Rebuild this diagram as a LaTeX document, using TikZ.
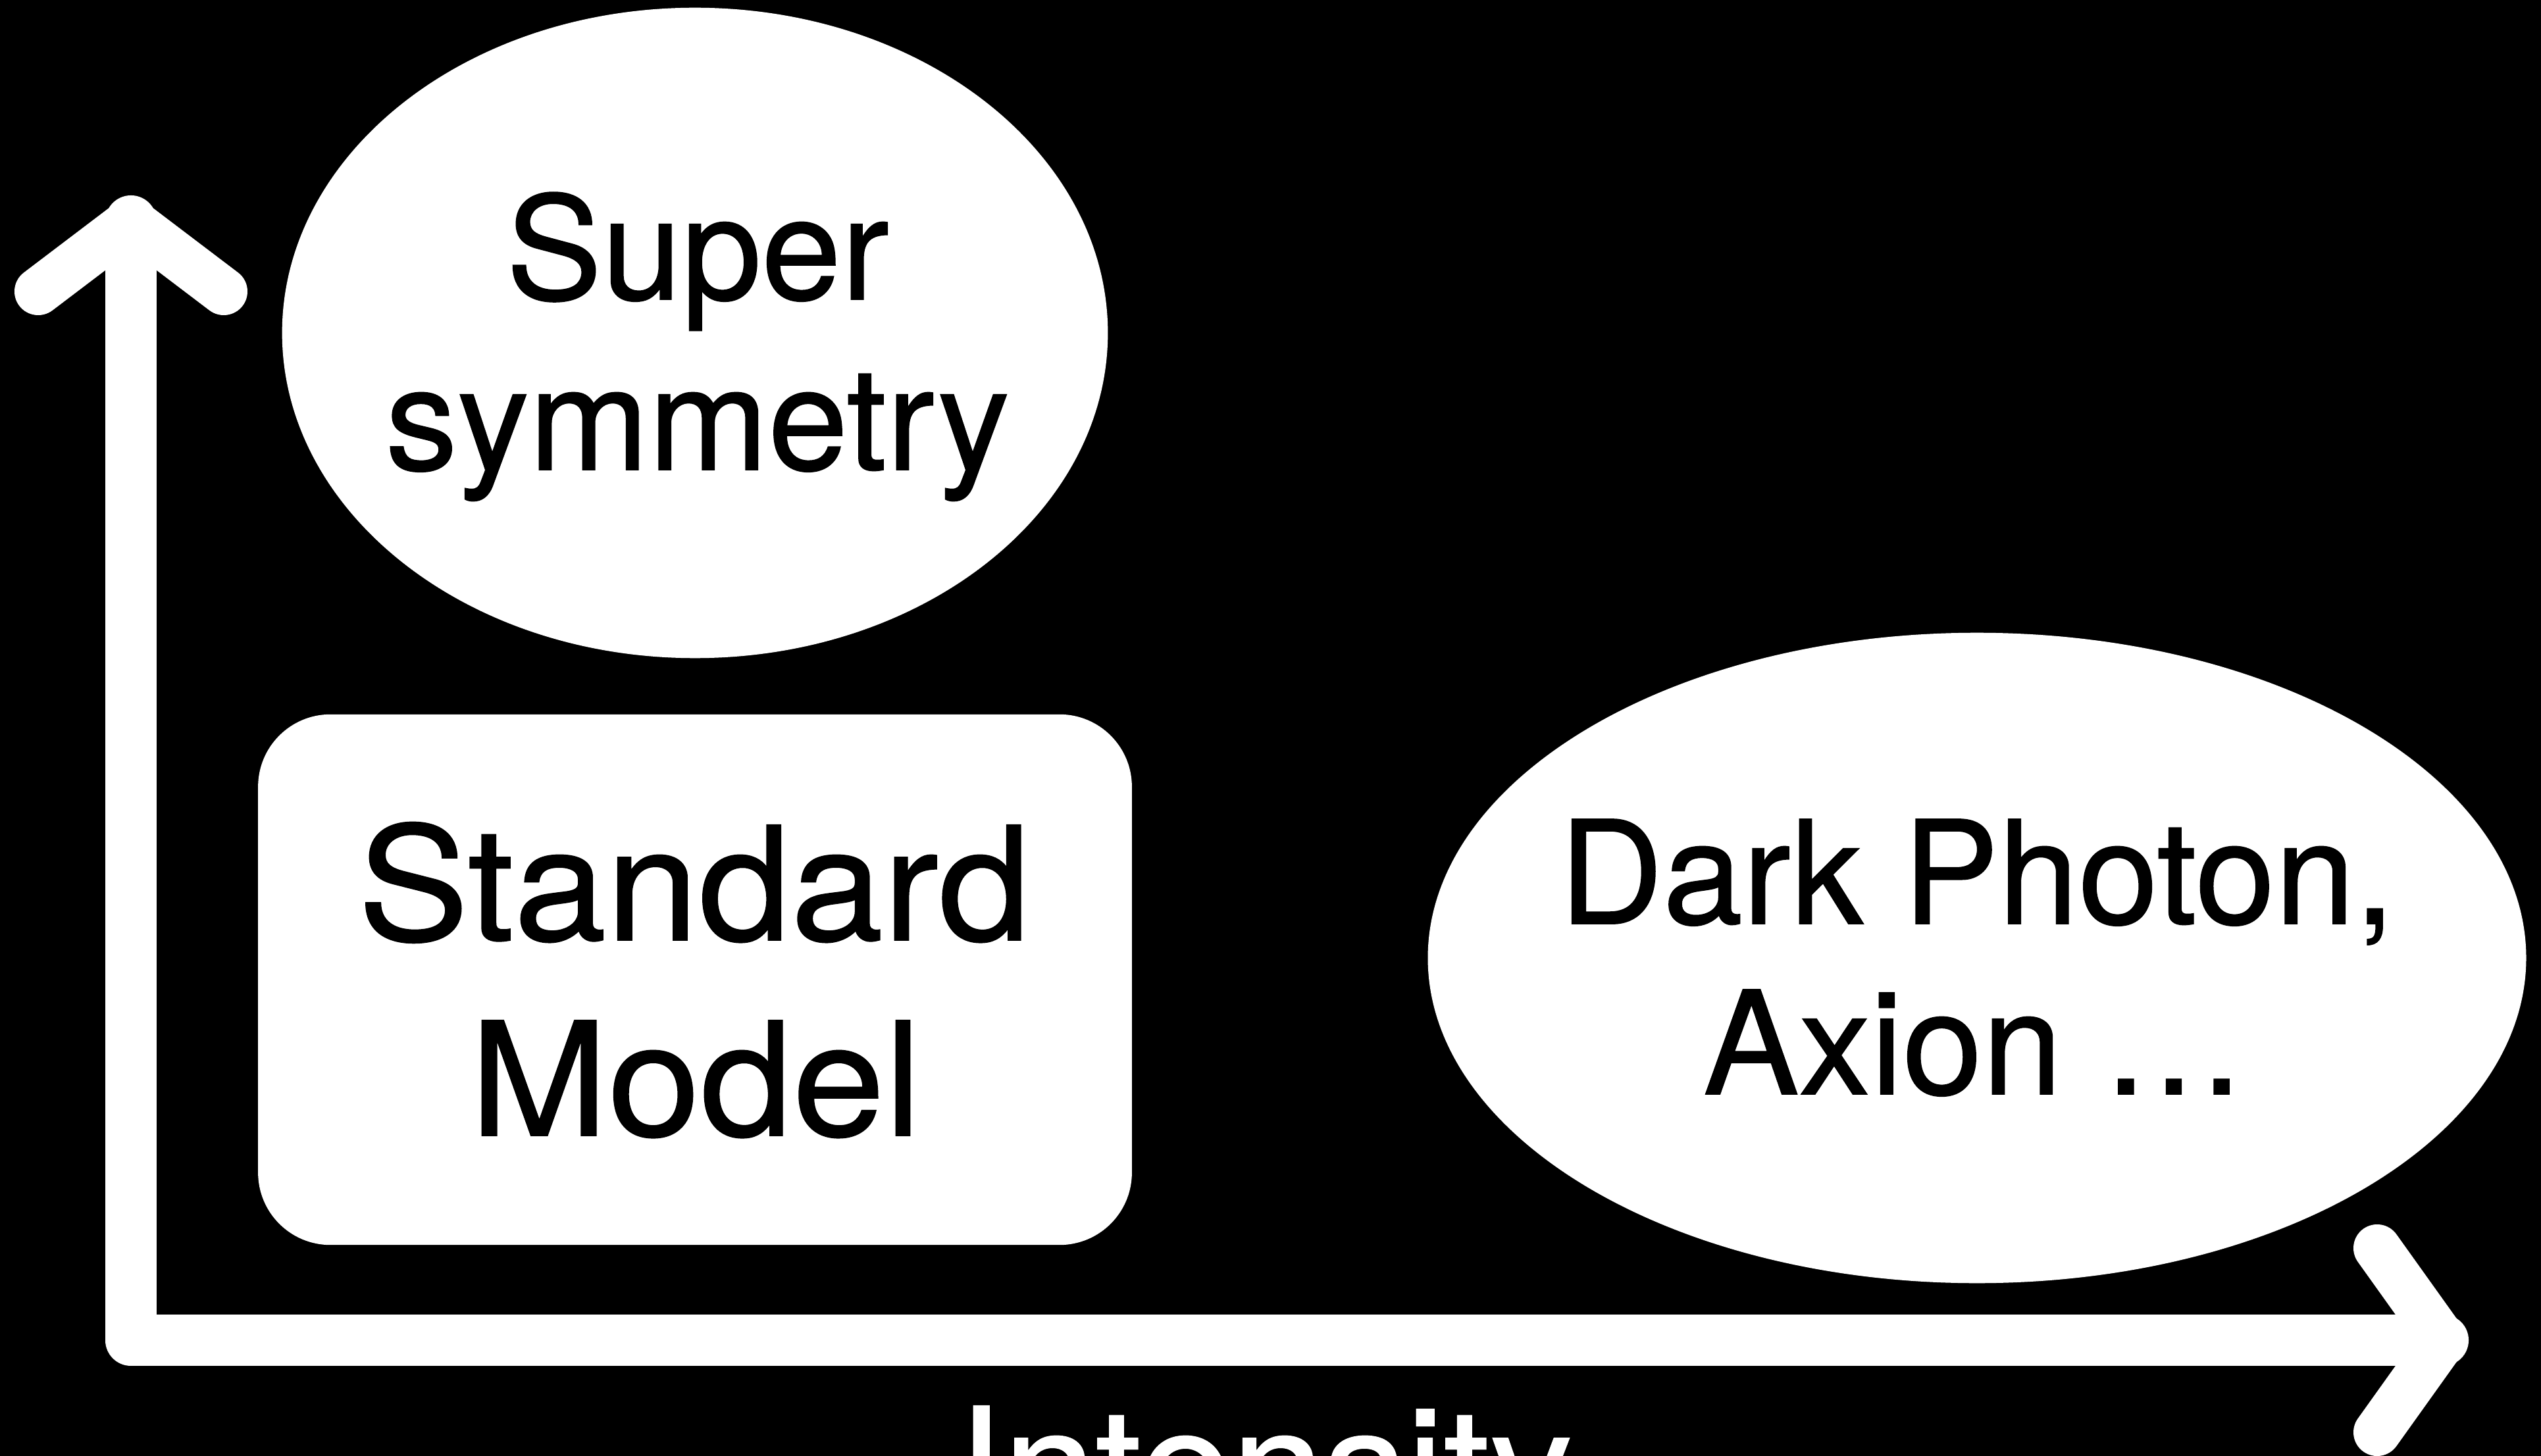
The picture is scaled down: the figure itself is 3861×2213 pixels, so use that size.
\documentclass[tikz,border=0pt]{standalone}
\usepackage{fontspec}
\setmainfont{TeX Gyre Heros}[FakeBold=0.8]
\newfontfamily\widefont{TeX Gyre Heros}[FakeBold=0.8,FakeStretch=1.05]
\usetikzlibrary{shapes.geometric}
\begin{document}
\begin{tikzpicture}[x=0.01cm,y=-0.01cm,
  shaft/.style={draw=white,line width=0.78cm,line join=round,line cap=round},
  barb/.style={draw=white,line width=0.72cm,line join=round,line cap=round},
  bubble/.style={ellipse,fill=white,inner sep=0pt,minimum height=9.88cm},
  smbox/.style={rectangle,rounded corners=1.1cm,fill=white,inner sep=0pt,minimum width=13.27cm,minimum height=8.06cm},
  smalltxt/.style={font=\fontsize{62pt}{62pt}\selectfont,text=black,inner sep=0pt,anchor=base},
  bigtxt/.style={font=\widefont\fontsize{68.3pt}{68.3pt}\selectfont,inner sep=0pt,anchor=base}]
\useasboundingbox (0,0) rectangle (3861,2213);
\fill[black] (0,0) rectangle (3861,2213);
\begin{scope}
\clip (0,0) rectangle (3861,2213);
% axes
\coordinate (ytip) at (199,336);
\coordinate (origin) at (199,2037);
\coordinate (xtip) at (3712,2037);
\coordinate (yl) at (58,443);
\coordinate (yr) at (340,443);
\coordinate (xu) at (3612,1897);
\coordinate (xd) at (3612,2177);
\draw[shaft] (ytip) -- (origin) -- (xtip);
\draw[barb] (yl) -- (ytip) -- (yr);
\draw[barb] (xu) -- (xtip) -- (xd);
% shapes
\node[bubble,minimum width=12.54cm] (susy) at (1056,506) {};
\node[smbox] (sm) at (1056,1489) {};
\node[bubble,minimum width=16.68cm] (dark) at (3004,1456) {};
% texts
\node[smalltxt] (susyA) at (1060,455) {Super};
\node[smalltxt] (susyB) at (1060,714) {symmetry};
\node[bigtxt,text=black] (smA) at (1055,1429) {Standard};
\node[bigtxt,text=black] (smB) at (1057,1726) {Model};
\node[smalltxt] (darkA) at (3004,1404) {Dark Photon,};
\node[smalltxt] (darkB) at (3000,1663) {Axion …};
\node[bigtxt,text=white] (inten) at (1922,2312) {Intensity};
\end{scope}
\end{tikzpicture}
\end{document}
